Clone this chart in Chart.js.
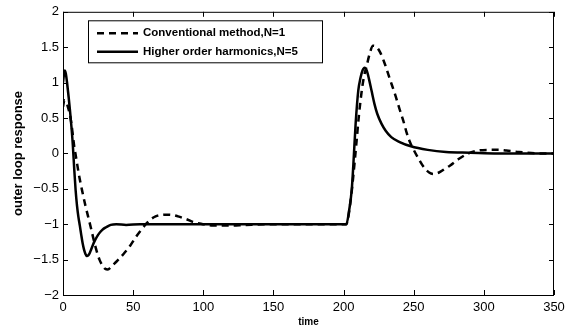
<!DOCTYPE html>
<html>
<head>
<meta charset="utf-8">
<script src="https://cdn.jsdelivr.net/npm/chart.js@4.4.1/dist/chart.umd.min.js"></script>
<style>
  html, body { margin: 0; padding: 0; background: #fff; }
  canvas { display: block; }
</style>
</head>
<body>
<canvas id="myChart" width="576" height="327"></canvas>
<script>
// conventional method, N=1 (dashed)
const convTime = [0, 1, 2, 3, 4, 5, 6, 7, 8, 9, 10, 11, 12, 14, 16, 18, 20, 22, 24, 26, 28, 30, 32, 34, 37, 40, 44, 48, 52, 55, 59, 62, 66, 70, 74, 78, 82, 88, 93, 100, 107, 118, 130, 145, 170, 200, 202, 204, 206, 208, 209.3, 211, 213, 214.5, 216.5, 218.5, 221, 223, 226, 229.5, 233, 236.6, 240, 242.6, 245, 247.3, 250, 253, 257, 261, 264, 268, 272, 276, 282, 289, 296, 304, 310, 316, 325, 338, 350];
const convValue = [0.66, 0.75, 0.74, 0.69, 0.62, 0.54, 0.42, 0.26, 0.1, -0.02, -0.14, -0.26, -0.37, -0.56, -0.74, -0.9, -1.06, -1.23, -1.38, -1.5, -1.58, -1.63, -1.64, -1.61, -1.55, -1.49, -1.4, -1.3, -1.18, -1.1, -1.0, -0.94, -0.89, -0.87, -0.865, -0.87, -0.89, -0.93, -0.97, -1.0, -1.02, -1.02, -1.01, -1.0, -1.0, -1.0, -1.0, -0.82, -0.5, -0.1, 0.18, 0.55, 0.89, 1.08, 1.24, 1.4, 1.52, 1.51, 1.43, 1.26, 1.05, 0.84, 0.62, 0.46, 0.29, 0.16, 0.05, -0.06, -0.19, -0.27, -0.29, -0.27, -0.22, -0.17, -0.08, 0.0, 0.04, 0.05, 0.05, 0.04, 0.02, 0.0, 0.0];

// higher order harmonics, N=5 (solid)
const harmTime = [0, 1.2, 2, 3, 4, 5, 6, 7, 8, 9, 10, 11, 12, 13, 14, 15, 16, 17, 18, 19, 20, 22, 25, 28, 31, 34, 38, 45, 55, 70, 100, 150, 202, 204, 205.8, 207, 208.6, 210.5, 212, 213.5, 215, 216.5, 218, 220, 222, 224, 227, 230, 234, 240, 248, 260, 273, 290, 310, 350];
const harmValue = [1.0, 1.17, 1.13, 0.98, 0.8, 0.6, 0.38, 0.12, -0.22, -0.52, -0.74, -0.9, -1.02, -1.15, -1.27, -1.36, -1.42, -1.45, -1.44, -1.41, -1.36, -1.26, -1.15, -1.08, -1.04, -1.01, -1.0, -1.01, -1.0, -1.0, -1.0, -1.0, -1.0, -0.8, -0.52, -0.15, 0.42, 0.89, 1.06, 1.17, 1.21, 1.17, 1.06, 0.88, 0.7, 0.56, 0.42, 0.32, 0.23, 0.16, 0.1, 0.05, 0.02, 0.01, 0.0, 0.0];

const xTicks = [0, 50, 100, 150, 200, 250, 300, 350];
const yTicks = [-2, -1.5, -1, -0.5, 0, 0.5, 1, 1.5, 2];

const seriesLabels = ['Conventional method,N=1', 'Higher order harmonics,N=5'];

const FONT = '"Liberation Sans", Arial, Helvetica, sans-serif';

// minus sign like matlab
const fmt = v => String(v).replace('-', '\u2212');

// box, inner ticks on all 4 sides, and the legend box
const matlabFrame = {
  id: 'matlabFrame',
  afterDraw(chart) {
    const { ctx, chartArea: a, scales: { x, y } } = chart;
    ctx.save();
    ctx.strokeStyle = '#000';
    ctx.lineWidth = 1;
    ctx.strokeRect(a.left + 0.5, a.top + 0.5, a.right - a.left - 1, a.bottom - a.top);

    ctx.beginPath();
    x.ticks.forEach(t => {
      const px = Math.round(x.getPixelForValue(t.value)) + 0.5;
      ctx.moveTo(px, a.bottom); ctx.lineTo(px, a.bottom - 5);
      ctx.moveTo(px, a.top); ctx.lineTo(px, a.top + 5);
    });
    y.ticks.forEach(t => {
      const py = Math.round(y.getPixelForValue(t.value)) + 0.5;
      ctx.moveTo(a.left, py); ctx.lineTo(a.left + 5, py);
      ctx.moveTo(a.right, py); ctx.lineTo(a.right - 5, py);
    });
    ctx.stroke();

    // legend
    const lx = a.left + 25, ly = a.top + 8.5, lw = 234, lh = 42;
    ctx.fillStyle = '#fff';
    ctx.fillRect(lx, ly, lw, lh);
    ctx.strokeRect(lx + 0.5, ly + 0.5, lw, lh);
    ctx.font = 'bold 11.5px ' + FONT;
    ctx.textBaseline = 'middle';
    ctx.fillStyle = '#000';
    chart.data.datasets.forEach((ds, i) => {
      const ry = ly + 13 + i * 18.5;
      ctx.save();
      ctx.lineWidth = ds.borderWidth;
      ctx.setLineDash(ds.borderDash || []);
      ctx.beginPath();
      ctx.moveTo(lx + 9, ry);
      ctx.lineTo(lx + 50, ry);
      ctx.stroke();
      ctx.restore();
      ctx.fillText(ds.label, lx + 55, ry);
    });
    ctx.restore();
  }
};

const ctx = document.getElementById('myChart');
const myChart = new Chart(ctx, {
  type: 'line',
  data: {
    datasets: [
      {
        label: seriesLabels[0],
        data: convTime.map((t, i) => ({ x: t, y: convValue[i] })),
        borderColor: '#000',
        borderWidth: 2.5,
        borderDash: [7, 5],
        pointRadius: 0,
        cubicInterpolationMode: 'monotone',
        fill: false
      },
      {
        label: seriesLabels[1],
        data: harmTime.map((t, i) => ({ x: t, y: harmValue[i] })),
        borderColor: '#000',
        borderWidth: 2.5,
        pointRadius: 0,
        cubicInterpolationMode: 'monotone',
        fill: false
      }
    ]
  },
  options: {
    responsive: false,
    animation: false,
    events: [],
    layout: { padding: { top: 11, right: 22, left: 0, bottom: 0 } },
    plugins: {
      legend: { display: false },
      tooltip: { enabled: false }
    },
    scales: {
      x: {
        type: 'linear',
        min: 0,
        max: 350,
        afterBuildTicks: s => { s.ticks = xTicks.map(v => ({ value: v })); },
        afterFit: s => { s.height = 32; },
        grid: { display: false, drawTicks: false },
        border: { display: false },
        ticks: {
          color: '#000',
          font: { family: FONT, size: 13 },
          padding: 5,
          maxRotation: 0,
          callback: v => fmt(v)
        },
        title: {
          display: true,
          text: 'time',
          color: '#000',
          font: { family: FONT, size: 10, weight: 'bold', lineHeight: 1 },
          padding: { top: 0, bottom: 0 }
        }
      },
      y: {
        type: 'linear',
        min: -2,
        max: 2,
        afterBuildTicks: s => { s.ticks = yTicks.map(v => ({ value: v })); },
        afterFit: s => { s.width = 63; },
        grid: { display: false, drawTicks: false },
        border: { display: false },
        ticks: {
          color: '#000',
          font: { family: FONT, size: 13 },
          padding: 4,
          callback: v => fmt(v)
        },
        title: {
          display: true,
          text: 'outer loop response',
          color: '#000',
          font: { family: FONT, size: 13, weight: 'bold', lineHeight: 1 },
          padding: { top: 12, bottom: 0 }
        }
      }
    }
  },
  plugins: [matlabFrame]
});
</script>
</body>
</html>
